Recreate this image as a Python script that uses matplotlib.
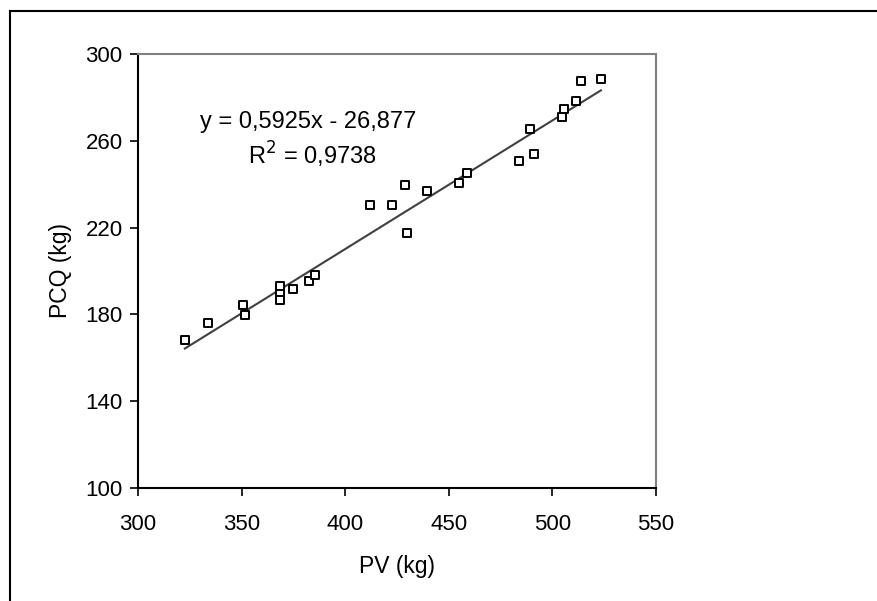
import matplotlib.pyplot as plt
import numpy as np

plt.rcParams['font.family'] = ['Liberation Sans', 'DejaVu Sans']

# PV (kg) vs PCQ (kg)
pv = [322.6, 333.7, 350.6, 351.6, 368.4, 368.4, 368.4, 374.7, 382.4, 385.3,
      411.8, 422.4, 428.7, 429.6, 439.3, 454.7, 458.7, 483.7, 489.4, 491.3,
      504.7, 505.4, 511.6, 513.6, 523.4]
pcq = [168.4, 176.2, 184.5, 179.9, 192.9, 189.3, 186.8, 191.9, 195.6, 198.3,
       230.2, 230.6, 239.8, 217.7, 236.8, 240.7, 245.3, 250.9, 265.3, 253.9,
       271.0, 274.7, 278.5, 287.7, 288.7]

slope = 0.5925
intercept = -26.877
eq_text = 'y = 0,5925x - 26,877'
r2_text = 'R$^2$ = 0,9738'

fig = plt.figure(figsize=(8.78, 6.01), dpi=100)
ax = fig.add_axes([138/878, 1 - 488/601, (656 - 138)/878, (488 - 54)/601])

# outer chart frame (only top and left edges visible in the crop)
fig.add_artist(plt.Line2D([10/878, 1], [1 - 11/601, 1 - 11/601], color='black', lw=1.5,
                          transform=fig.transFigure))
fig.add_artist(plt.Line2D([10/878, 10/878], [0, 1 - 11/601], color='black', lw=1.5,
                          transform=fig.transFigure))

ax.scatter(pv, pcq, marker='s', s=40, facecolors='white', edgecolors='black',
           linewidths=1.4, zorder=3)

xs = np.array([min(pv), max(pv)])
ax.plot(xs, slope * xs + intercept, color='#404040', lw=1.5, zorder=2)

ax.set_xlim(300, 550)
ax.set_ylim(100, 300)
ax.set_xticks([300, 350, 400, 450, 500, 550])
ax.set_yticks([100, 140, 180, 220, 260, 300])
ax.tick_params(direction='out', length=6, width=1.2, labelsize=16)
ax.tick_params(axis='x', pad=13)
ax.tick_params(axis='y', pad=5)

for side in ['left', 'bottom']:
    ax.spines[side].set_color('black')
    ax.spines[side].set_linewidth(1.5)
for side in ['top', 'right']:
    ax.spines[side].set_color('#808080')
    ax.spines[side].set_linewidth(1.5)

ax.set_xlabel('PV (kg)', fontsize=16.5, labelpad=14)
ax.set_ylabel('PCQ (kg)', fontsize=16.5, labelpad=10)

ax.text(382, 268.7, eq_text, fontsize=17, ha='center', va='center')
ax.text(384, 253.5, r2_text, fontsize=17, ha='center', va='center')

fig.savefig('out.png', dpi=100)
